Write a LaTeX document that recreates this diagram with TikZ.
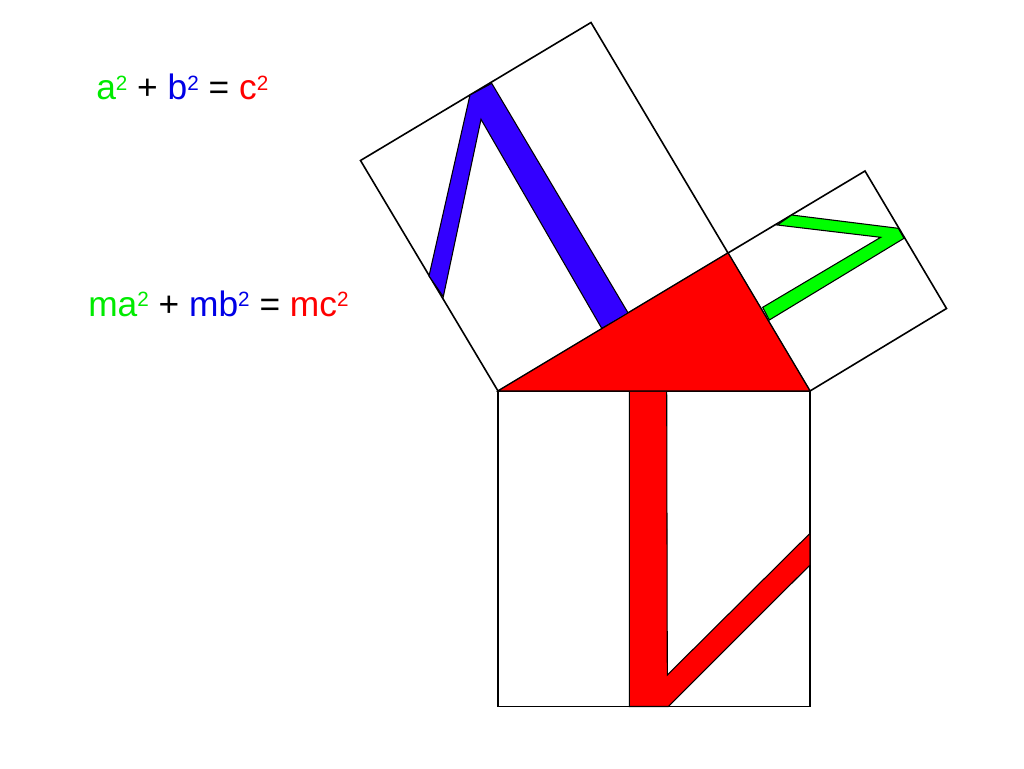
\documentclass[tikz,border=0pt]{standalone}
\usepackage{fontspec}
\setmainfont{Liberation Sans}
\usetikzlibrary{calc}
\definecolor{limegreen}{RGB}{0,255,0}
\definecolor{violetblue}{RGB}{51,0,255}
\definecolor{eqgreen}{RGB}{0,235,0}
\definecolor{eqblue}{RGB}{0,0,230}
\newcommand{\sqtwo}{\raisebox{7pt}{\fontsize{15.5}{17}\selectfont 2}}
\tikzstyle{square} = [draw=black, line width=1.2pt, fill=white]
\tikzstyle{figure} = [draw=black, line width=0.8pt]
\tikzstyle{eq} = [anchor=base west, inner sep=0pt, font=\fontsize{26.5}{30}\selectfont]

\begin{document}
\begin{tikzpicture}[x=0.75pt, y=-0.75pt]
    \useasboundingbox (0,0) rectangle (1024,768);
    % right triangle, right angle at C
    \coordinate (A) at (498,391);
    \coordinate (B) at (810,391);
    \coordinate (C) at (728,253);
    % outer corners of the squares
    \coordinate (Cl) at (591,22.5);
    \coordinate (Al) at (360.5,160.5);
    \coordinate (Cr) at (865,171);
    \coordinate (Br) at (946.5,308.5);
    \coordinate (Ab) at (498,706.5);
    \coordinate (Bb) at (810,706.5);

    \draw[square] (A) -- (C) -- (Cl) -- (Al) -- cycle;
    \draw[square] (C) -- (B) -- (Br) -- (Cr) -- cycle;
    \draw[square] (A) -- (B) -- (Bb) -- (Ab) -- cycle;

    % similar figures, one in each square
    \draw[figure, fill=violetblue] (601.7,328.3) -- (628.3,313.3) -- (491.7,83.3) -- (470,95)
        -- (429,276) -- (443.3,296.7) -- (481,119.3) -- cycle;
    \draw[figure, fill=limegreen] (762.7,307.3) -- (880.7,237.3) -- (777.3,225) -- (791.7,215)
        -- (898.3,228.3) -- (904,238.3) -- (769.3,320) -- cycle;
    \draw[figure, fill=red] (629.3,391) -- (629.3,706.5) -- (668.3,706.5) -- (810,565)
        -- (810,533.3) -- (667.3,675) -- (666.7,391) -- cycle;

    \draw[figure, fill=red] (A) -- (B) -- (C) -- cycle;

    \node[eq] (plain) at (96,99.5) {\textcolor{eqgreen}{a\sqtwo} + \textcolor{eqblue}{b\sqtwo} = \textcolor{red}{c\sqtwo}};
    \node[eq] (scaled) at (88,316) {\textcolor{eqgreen}{ma\sqtwo} + \textcolor{eqblue}{mb\sqtwo} = \textcolor{red}{mc\sqtwo}};
\end{tikzpicture}
\end{document}
